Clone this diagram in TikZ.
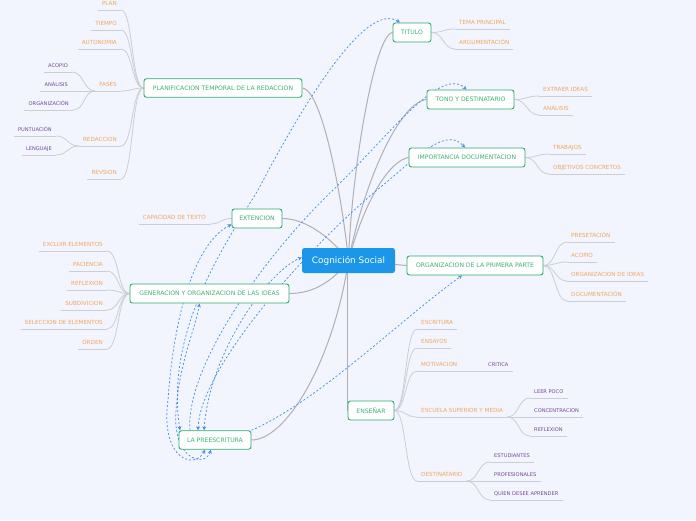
\documentclass[tikz,border=0pt]{standalone}
\usepackage{fontspec}
\setmainfont{DejaVu Sans}
\usetikzlibrary{arrows.meta}
\definecolor{bg}{RGB}{242,245,253}
\definecolor{cblue}{RGB}{27,150,232}
\definecolor{gborder}{RGB}{48,172,106}
\definecolor{gtext}{RGB}{62,178,112}
\definecolor{otext}{RGB}{243,164,96}
\definecolor{ptext}{RGB}{118,72,152}
\definecolor{mainline}{RGB}{176,176,182}
\definecolor{subline}{RGB}{204,206,214}
\definecolor{linkc}{RGB}{70,145,230}
\pgfdeclarelayer{bgl}
\pgfdeclarelayer{edges}
\pgfsetlayers{bgl,edges,main}
\tikzset{
 topic/.style={draw=gborder, fill=white, line width=0.9pt, rounded corners=2.5pt, text=gtext, font=\fontsize{6.1}{7}\selectfont, inner sep=0pt, minimum height=18.5pt},
 central/.style={fill=cblue, rounded corners=2.5pt, text=white, font=\fontsize{8.9}{10}\selectfont, inner sep=0pt, minimum width=93pt, minimum height=25pt},
 kid/.style={inner xsep=4pt, inner ysep=4.5pt, text depth=0pt},
 okid/.style={kid, text=otext, font=\fontsize{5.65}{6}\selectfont},
 pkid/.style={kid, text=ptext, font=\fontsize{5.1}{6}\selectfont},
 mainlink/.style={draw=mainline, line width=1pt},
 sublink/.style={draw=subline, line width=0.8pt},
 rel/.style={draw=linkc, dash pattern=on 2pt off 2pt, line width=0.75pt, -{Stealth[length=4pt,width=4pt]}},
 relb/.style={rel, {Stealth[length=4pt,width=4pt]}-{Stealth[length=4pt,width=4pt]}},
}
% right-side child: style, name, position, text, parent anchor
\newcommand\rk[5]{%
 \node[#1, anchor=south west] (#2) at (#3) {#4};
 \begin{pgfonlayer}{edges}
 \draw[sublink] (#2.south west) -- (#2.south east);
 \draw[sublink] (#5) .. controls +(12,0) and +(-12,0) .. (#2.south west);
 \end{pgfonlayer}}
% left-side child
\newcommand\lk[5]{%
 \node[#1, anchor=south east] (#2) at (#3) {#4};
 \begin{pgfonlayer}{edges}
 \draw[sublink] (#2.south west) -- (#2.south east);
 \draw[sublink] (#5) .. controls +(-12,0) and +(12,0) .. (#2.south east);
 \end{pgfonlayer}}
\begin{document}
\begin{tikzpicture}[x=1pt,y=-1pt]
\begin{pgfonlayer}{bgl}
\fill[bg] (0,0) rectangle (696,520);
\end{pgfonlayer}
\useasboundingbox (0,0) rectangle (696,520);

% topics
\node[central] (cs) at (348.5,260.5) {Cognición Social};
\node[topic, minimum width=158pt] (plan) at (223,88) {PLANIFICACION TEMPORAL DE LA REDACCION};
\node[topic, minimum width=38pt, minimum height=19pt] (tit) at (412,32.5) {TITULO};
\node[topic, minimum width=87pt, minimum height=19pt] (tono) at (470.5,99.5) {TONO Y DESTINATARIO};
\node[topic, minimum width=116pt, minimum height=19pt] (imp) at (467,157.5) {IMPORTANCIA DOCUMENTACION};
\node[topic, minimum width=136pt, minimum height=19pt] (org) at (475,265.5) {ORGANIZACION DE LA PRIMERA PARTE};
\node[topic, minimum width=46pt, minimum height=19pt] (ens) at (371,410.5) {ENSEÑAR};
\node[topic, minimum width=50pt, minimum height=19pt] (ext) at (257,218.5) {EXTENCION};
\node[topic, minimum width=159pt, minimum height=19pt] (gen) at (209.5,293.5) {GENERACION Y ORGANIZACION DE LAS IDEAS};
\node[topic, minimum width=72pt] (pre) at (215,440) {LA PREESCRITURA};

% main connectors
\begin{pgfonlayer}{edges}
\draw[mainlink] (plan.east) .. controls +(20,2) and +(-6,-60) .. (cs.center);
\draw[mainlink] (tit.west) .. controls +(-18,2) and +(3,-90) .. (cs.center);
\draw[mainlink] (tono.west) .. controls +(-27,3) and +(16,-80) .. (cs.center);
\draw[mainlink] (imp.west) .. controls +(-19,3) and +(16,-60) .. (cs.center);
\draw[mainlink] (cs.center) -- (org.west);
\draw[mainlink] (ens.west) -- (ens.west |- cs.center);
\draw[mainlink] (ext.east) .. controls +(25,0) and +(-15,-20) .. (cs.center);
\draw[mainlink] (gen.east) .. controls +(25,0) and +(-15,20) .. (cs.center);
\draw[mainlink] (pre.east) .. controls +(35,0) and +(-15,100) .. (cs.center);
\end{pgfonlayer}

% right children
\rk{okid}{tp}{455,29}{TEMA PRINCIPAL}{tit.east}
\rk{okid}{arg}{455,49}{ARGUMENTACIÓN}{tit.east}
\rk{okid}{exi}{539,96}{EXTRAER IDEAS}{tono.east}
\rk{okid}{ana}{539,115}{ANÁLISIS}{tono.east}
\rk{okid}{trab}{549,154}{TRABAJOS}{imp.east}
\rk{okid}{obj}{549,174}{OBJETIVOS CONCRETOS}{imp.east}
\rk{okid}{pres}{567,242}{PRESETACIÓN}{org.east}
\rk{okid}{aco}{567,262}{ACOPIO}{org.east}
\rk{okid}{ordi}{567,281}{ORGANIZACION DE IDEAS}{org.east}
\rk{okid}{doc}{567,301}{DOCUMENTACIÓN}{org.east}
\rk{okid}{esc}{417,329}{ESCRITURA}{ens.east}
\rk{okid}{ensa}{417,348}{ENSAYOS}{ens.east}
\rk{okid}{mot}{417,371}{MOTIVACION}{ens.east}
\rk{okid}{esm}{417,417}{ESCUELA SUPERIOR Y MEDIA}{ens.east}
\rk{okid}{dest}{417,481}{DESTINATARIO}{ens.east}
\node[pkid, anchor=south west] (crit) at (484,371) {CRITICA};
\begin{pgfonlayer}{edges}
\draw[sublink] (crit.south west) -- (crit.south east);
\draw[sublink] (mot.south east) -- (crit.south west);
\end{pgfonlayer}
\rk{pkid}{leer}{530,398}{LEER POCO}{esm.south east}
\rk{pkid}{conc}{530,417}{CONCENTRACION}{esm.south east}
\rk{pkid}{refl}{530,436}{REFLEXION}{esm.south east}
\rk{pkid}{estu}{490,462}{ESTUDIANTES}{dest.south east}
\rk{pkid}{prof}{490,481}{PROFESIONALES}{dest.south east}
\rk{pkid}{quien}{490,500}{QUIEN DESEE APRENDER}{dest.south east}

% left children
\lk{okid}{plank}{121,10}{PLAN}{plan.west}
\lk{okid}{tiem}{121,30}{TIEMPO}{plan.west}
\lk{okid}{auto}{121,49}{AUTONOMIA}{plan.west}
\lk{okid}{fas}{121,91}{FASES}{plan.west}
\lk{okid}{red}{121,146}{REDACCION}{plan.west}
\lk{okid}{rev}{121,179}{REVSION}{plan.west}
\lk{pkid}{faco}{72,72}{ACOPIO}{fas.south west}
\lk{pkid}{fana}{72,91}{ANÁLISIS}{fas.south west}
\lk{pkid}{forg}{73,110}{ORGANIZACIÓN}{fas.south west}
\lk{pkid}{punt}{56,136}{PUNTUACIÓN}{red.south west}
\lk{pkid}{leng}{56,155}{LENGUAJE}{red.south west}
\lk{okid}{cap}{210,224}{CAPACIDAD DE TEXTO}{ext.west}
\lk{okid}{excl}{107,251}{EXCLUIR ELEMENTOS}{gen.west}
\lk{okid}{paci}{107,271}{PACIENCIA}{gen.west}
\lk{okid}{grefl}{107,290}{REFLEXION}{gen.west}
\lk{okid}{subd}{107,310}{SUBDIVICION}{gen.west}
\lk{okid}{sel}{107,329}{SELECCION DE ELEMENTOS}{gen.west}
\lk{okid}{ord}{107,349}{ORDEN}{gen.west}

% relationship links
\begin{pgfonlayer}{edges}
\draw[relb] ([xshift=-35pt]pre.north) .. controls (165,330) and (225,245) .. (258,190) .. controls (300,110) and (365,0) .. ([xshift=-12pt]tit.north);
\draw[rel] ([xshift=-25pt]pre.north) .. controls (185,370) and (260,260) .. (333,190) .. controls (385,140) and (440,65) .. ([xshift=-4pt]tono.north);
\draw[relb] ([xshift=-17pt]pre.north) .. controls (200,370) and (300,255) .. (377,190) .. controls (412,162) and (445,125) .. ([xshift=-2pt]imp.north);
\draw[relb] ([xshift=-11pt]pre.north) .. controls (210,350) and (270,270) .. ([yshift=3pt]cs.west);
\draw[rel] (pre.north east) .. controls (320,400) and (400,320) .. ([xshift=-13pt]org.south);
\draw[relb] ([xshift=-10pt]pre.south) .. controls (195,470) and (160,460) .. (168,400) .. controls (175,300) and (200,240) .. ([yshift=4pt]ext.south west);
\draw[relb] ([xshift=-4pt]pre.south) .. controls (205,468) and (172,460) .. (176,410) .. controls (180,360) and (195,330) .. ([xshift=-10pt]gen.south);
\end{pgfonlayer}
\end{tikzpicture}
\end{document}
